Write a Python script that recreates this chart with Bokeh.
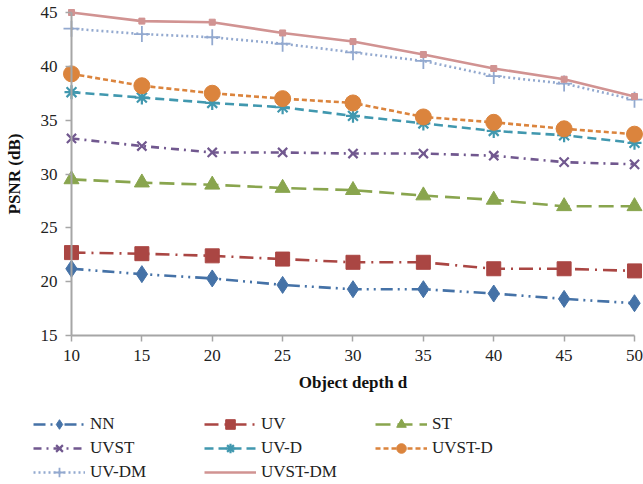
from bokeh.plotting import figure
from bokeh.models import Range1d, Legend, LegendItem, FixedTicker
from bokeh.embed import file_html
from bokeh.resources import INLINE

depth = [10, 15, 20, 25, 30, 35, 40, 45, 50]
nn      = [21.2, 20.7, 20.3, 19.7, 19.3, 19.3, 18.9, 18.4, 18.0]
uv      = [22.7, 22.6, 22.4, 22.1, 21.8, 21.8, 21.2, 21.2, 21.0]
st      = [29.5, 29.2, 29.0, 28.7, 28.5, 28.0, 27.6, 27.0, 27.0]
uvst    = [33.3, 32.6, 32.0, 32.0, 31.9, 31.9, 31.7, 31.1, 30.9]
uv_d    = [37.6, 37.1, 36.6, 36.2, 35.4, 34.7, 34.0, 33.6, 32.9]
uvst_d  = [39.3, 38.2, 37.5, 37.0, 36.6, 35.3, 34.8, 34.2, 33.7]
uv_dm   = [43.5, 43.0, 42.7, 42.1, 41.3, 40.5, 39.1, 38.4, 36.9]
uvst_dm = [45.0, 44.2, 44.1, 43.1, 42.3, 41.1, 39.8, 38.8, 37.2]
names = ["NN", "UV", "ST", "UVST", "UV-D", "UVST-D", "UV-DM", "UVST-DM"]
x_ticks = [10, 15, 20, 25, 30, 35, 40, 45, 50]
y_ticks = [15, 20, 25, 30, 35, 40, 45]

FONT = "serif"
AXIS_GRAY = "#A6A6A6"

# one frame covering the whole canvas; axes sit at fixed data locations inside it
p = figure(width=643, height=484, output_backend="svg", toolbar_location=None,
           x_range=Range1d(4.956, 50.64), y_range=Range1d(1.162, 46.115),
           min_border_left=0, min_border_right=0, min_border_top=0, min_border_bottom=0)
p.outline_line_color = None
p.grid.visible = False

for ax in (p.xaxis[0], p.yaxis[0]):
    ax.axis_line_color = AXIS_GRAY
    ax.axis_line_width = 2
    ax.major_tick_line_color = AXIS_GRAY
    ax.major_tick_line_width = 1.5
    ax.major_tick_out = 6
    ax.major_tick_in = 0
    ax.minor_tick_line_color = None
    ax.major_label_text_font = FONT
    ax.major_label_text_font_size = "17px"
    ax.major_label_text_color = "#222222"
    ax.axis_label_text_font = FONT
    ax.axis_label_text_font_style = "bold"
    ax.axis_label_text_font_size = "17px"
    ax.axis_label_text_color = "#111111"

p.xaxis.ticker = FixedTicker(ticks=x_ticks)
p.yaxis.ticker = FixedTicker(ticks=y_ticks)
p.xaxis.bounds = (x_ticks[0], x_ticks[-1])
p.yaxis.bounds = (y_ticks[0], y_ticks[-1])
p.xaxis.fixed_location = y_ticks[0]
p.yaxis.fixed_location = x_ticks[0]
p.xaxis.axis_label = "Object depth d"
p.yaxis.axis_label = "PSNR (dB)"
p.xaxis.major_label_standoff = 8
p.yaxis.major_label_standoff = 8
p.xaxis.axis_label_standoff = 9
p.yaxis.axis_label_standoff = 14

series = [
    (nn, "#4572A7", "12 5 2 5 2 5", "diamond", 17, 1),
    (uv, "#AA4643", "14 6 2 6", "square", 14, 1),
    (st, "#89A54E", "15 7", "triangle", 15, 1),
    (uvst, "#71588F", "8 5 2 5", "x", 13, 2.2),
    (uv_d, "#4198AF", "9 5", "asterisk", 14, 2.2),
    (uvst_d, "#DB843D", "5 3", "circle", 16, 1),
    (uv_dm, "#93A9CF", "2 3", "cross", 16, 1.8),
    (uvst_dm, "#D19392", "solid", "square", 6, 1),
]

items = {}
for (vals, color, dash, marker, size, mlw), name in zip(series, names):
    l1 = p.line(depth, vals, line_color=color, line_width=2.6, line_dash=dash)
    s1 = p.scatter(depth, vals, marker=marker, size=size, fill_color=color,
                   line_color=color, line_width=mlw)
    items[name] = LegendItem(label=name, renderers=[l1, s1] if size > 8 else [l1])

order = ["NN", "UVST", "UV-DM", "UV", "UV-D", "UVST-DM", "ST", "UVST-D"]
legend = Legend(items=[items[n] for n in order], ncols=3, location=(33, 0),
                label_text_font=FONT, label_text_font_size="17px",
                label_text_color="#222222",
                glyph_width=52, glyph_height=24, label_width=114, label_height=20,
                label_standoff=5, spacing=0, padding=2, margin=0,
                border_line_color=None, background_fill_alpha=0)
p.add_layout(legend)

open("out.html", "w").write(file_html(p, INLINE))
